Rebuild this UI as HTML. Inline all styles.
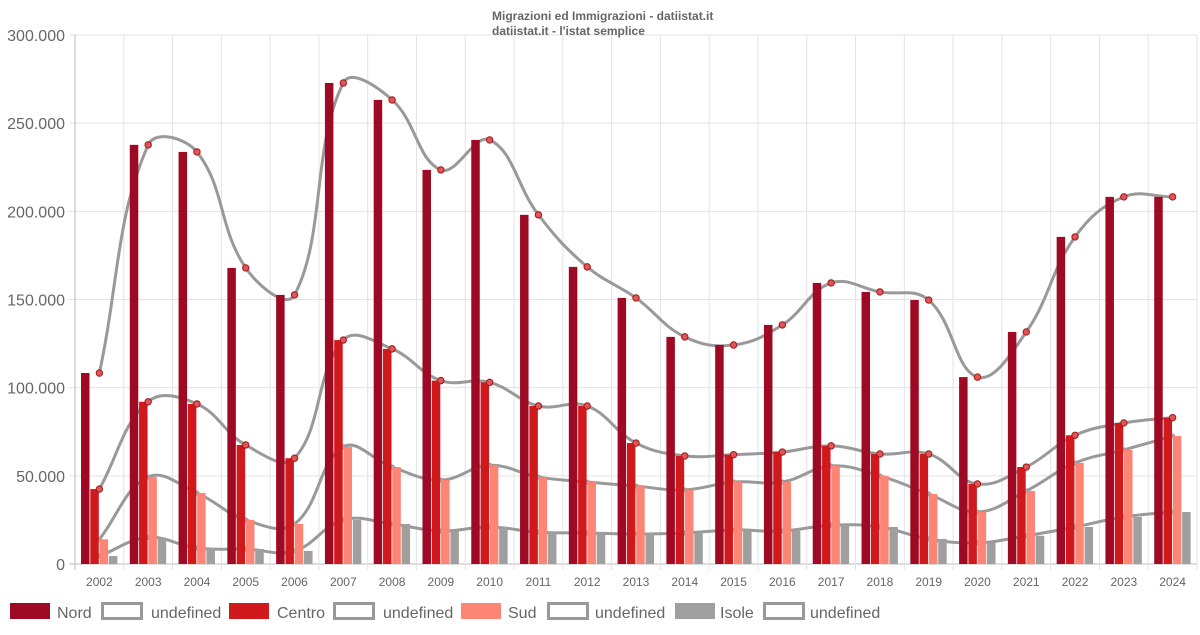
<!DOCTYPE html>
<html><head><meta charset="utf-8"><style>
body{margin:0;background:#fff;font-family:"Liberation Sans",sans-serif}
svg text{font-family:"Liberation Sans",sans-serif}
</style></head><body>
<svg id="c" width="1200" height="630" xmlns="http://www.w3.org/2000/svg">
<g id="grid"></g><g id="lines"></g><g id="bars"></g><g id="points"></g><g id="axes"></g><g id="legend"></g>
<text x="492" y="20" font-size="12" font-weight="bold" fill="#666">Migrazioni ed Immigrazioni - datiistat.it</text>
<text x="492" y="35" font-size="12" font-weight="bold" fill="#666">datiistat.it - l'istat semplice</text>
</svg>
<script>
const years=["2002","2003","2004","2005","2006","2007","2008","2009","2010","2011","2012","2013","2014","2015","2016","2017","2018","2019","2020","2021","2022","2023","2024"];
const nord=[108.3,237.7,233.7,167.9,152.6,272.8,263.2,223.5,240.5,198,168.5,150.9,128.8,124.2,135.6,159.4,154.3,149.7,106,131.6,185.5,208.2,208.2];
const centro=[42.5,92,90.8,67.5,60,127,122,104,103,89.6,89.6,68.6,61.3,62,63.5,67,62.4,62.4,45.4,55,73,80,83];
const sud=[14,49.3,40.3,25,22.7,66.4,55,47.6,56,49.3,46.5,44.2,42,46.5,46.5,55.6,50,39.7,29.5,41.4,57.3,64.7,72.6];
const isole=[4.5,15,9,8.5,7.4,25,22.7,18.7,21,18,17.6,17,17.6,19.3,18.7,22,21,14.2,12,16,21,26.7,29.5];
const yTicks=[0,50,100,150,200,250,300];
const yTickLabels=["0","50.000","100.000","150.000","200.000","250.000","300.000"];
const NS="http://www.w3.org/2000/svg";
const X0=75,X1=1197,Y0=564,Y1=35;
const gw=(X1-X0)/years.length;
function y(v){return Y0-(v/300)*(Y0-Y1);}
function xc(i){return X0+gw*(i+0.5);}
function mk(t,a,p){const e=document.createElementNS(NS,t);for(const k in a)e.setAttribute(k,a[k]);p.appendChild(e);return e;}
const grid=document.getElementById('grid'),bars=document.getElementById('bars'),lines=document.getElementById('lines'),points=document.getElementById('points'),axes=document.getElementById('axes'),legend=document.getElementById('legend');
yTicks.forEach((t,i)=>{
 const l=mk('line',{x1:X0-6,x2:X1,y1:y(t),y2:y(t),stroke:i==0?'#bbb':'#e3e3e3','stroke-width':1},grid);
 
 
 const tx=mk('text',{x:65,y:y(t)+6,'font-size':16,fill:'#666','text-anchor':'end'},axes);
 tx.textContent=yTickLabels[i];
 
 
});
for(let i=0;i<=years.length;i++){
 const l=mk('line',{x1:X0+gw*i,x2:X0+gw*i,y1:Y1,y2:Y0+6,stroke:i==0?'#bbb':'#e3e3e3','stroke-width':1},grid);
 
 
}
years.forEach((yr,i)=>{
 const tx=mk('text',{x:xc(i),y:586,'font-size':12,fill:'#666','text-anchor':'middle'},axes);
 tx.textContent=yr;
 
 
});
const series=[["nord",nord,"#9e0a24"],["centro",centro,"#d0191c"],["sud",sud,"#fc8575"],["isole",isole,"#9f9f9f"]];
const bw=9.3;
series.forEach((s,k)=>{
 s[1].forEach((v,i)=>{
  const x=X0+gw*i+6+k*bw;
  const r=mk('rect',{x:x,y:y(v),width:bw-0.8,height:Y0-y(v),fill:s[2]},bars);
  
  
 });
});
function pathFor(vals){
 const pts=vals.map((v,i)=>[xc(i),y(v)]);const t=0.4;const cps=[];
 for(let i=0;i<pts.length;i++){
  const p0=pts[Math.max(0,i-1)],p1=pts[i],p2=pts[Math.min(pts.length-1,i+1)];
  const d01=Math.hypot(p1[0]-p0[0],p1[1]-p0[1]),d12=Math.hypot(p2[0]-p1[0],p2[1]-p1[1]);
  const s=d01+d12||1;const fa=t*d01/s,fb=t*d12/s;
  cps.push([[p1[0]-fa*(p2[0]-p0[0]),p1[1]-fa*(p2[1]-p0[1])],[p1[0]+fb*(p2[0]-p0[0]),p1[1]+fb*(p2[1]-p0[1])]]);
 }
 let d='M'+pts[0][0]+','+pts[0][1];
 for(let i=1;i<pts.length;i++){d+=' C'+cps[i-1][1][0]+','+cps[i-1][1][1]+' '+cps[i][0][0]+','+cps[i][0][1]+' '+pts[i][0]+','+pts[i][1];}
 return d;
}
series.forEach((s,k)=>{
 const p=mk('path',{d:pathFor(s[1]),fill:'none',stroke:'#999','stroke-width':3},lines);
 
 
 s[1].forEach((v,i)=>{
  const red=k<2;
  const c=mk('circle',{cx:xc(i),cy:y(v),r:red?3.2:2,fill:red?'#e05555':'#aaa',stroke:red?'#a01818':'#999','stroke-width':1},red?points:lines);
  
  
 });
});
const leg=[["Nord",10,57,"#9e0a24"],["undefined",101,151,null],["Centro",229,277,"#d0191c"],["undefined",333,383,null],["Sud",461,508,"#fc8575"],["undefined",547,595,null],["Isole",675,720,"#9f9f9f"],["undefined",763,810,null]];
leg.forEach(l=>{
 const r=l[3]?mk('rect',{x:l[1],y:603,width:40,height:16,fill:l[3]},legend):mk('rect',{x:l[1]+1.5,y:603.5,width:39,height:15,fill:'#fff',stroke:'#999','stroke-width':3},legend);
 
 
 const tx=mk('text',{x:l[2],y:618,'font-size':16,fill:'#666'},legend);
 tx.textContent=l[0];
 
 
});
</script>
</body></html>
